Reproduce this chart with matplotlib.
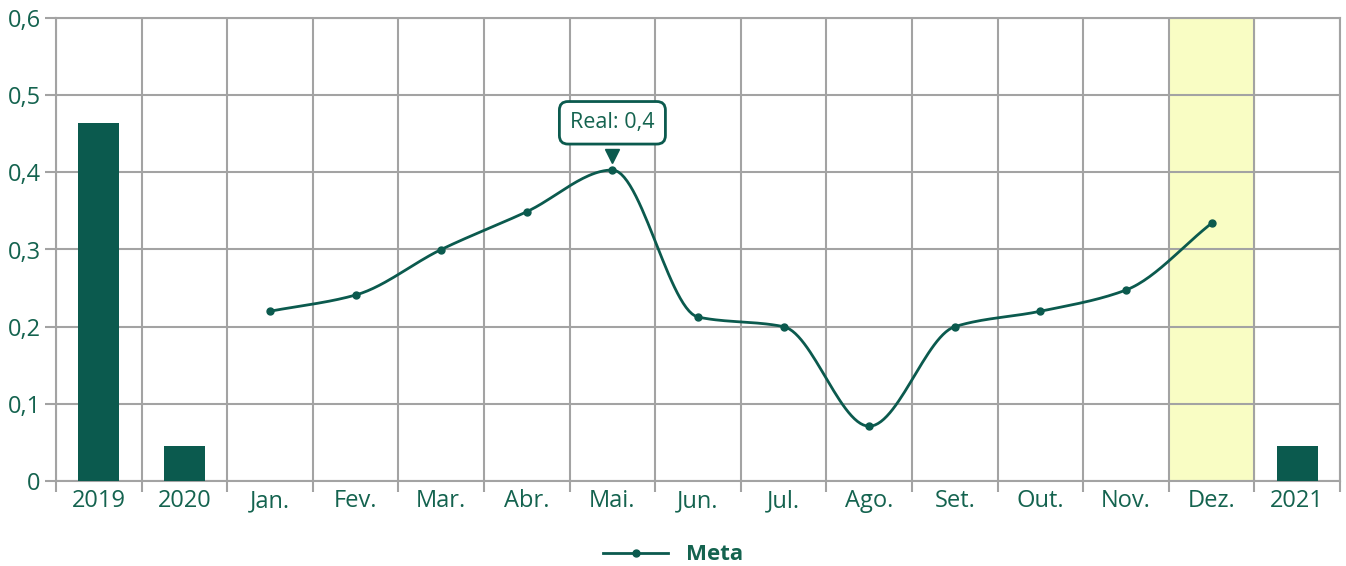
import numpy as np
import matplotlib
matplotlib.use('Agg')
import matplotlib.pyplot as plt
import matplotlib.transforms as mtransforms

# data
categories = ['2019', '2020', 'Jan.', 'Fev.', 'Mar.', 'Abr.', 'Mai.', 'Jun.', 'Jul.',
              'Ago.', 'Set.', 'Out.', 'Nov.', 'Dez.', '2021']
bar_labels = ['2019', '2020', '2021']
bar_values = [0.464, 0.045, 0.045]
month_labels = ['Jan.', 'Fev.', 'Mar.', 'Abr.', 'Mai.', 'Jun.', 'Jul.',
                'Ago.', 'Set.', 'Out.', 'Nov.', 'Dez.']
meta_values = [0.22, 0.241, 0.30, 0.349, 0.403, 0.2125, 0.20, 0.071, 0.20, 0.22, 0.2475, 0.334]
highlight = 'Dez.'
tooltip_label = 'Mai.'
tooltip_text = 'Real: 0,4'

teal = '#0b5a4e'
text_col = '#14634f'
grid_col = '#a3a3a3'

plt.rcParams['font.family'] = ['Open Sans', 'DejaVu Sans']


def monotone(x, y, n=30):
    # Fritsch-Carlson monotone cubic, for a smooth line like the original
    x = np.asarray(x, float)
    y = np.asarray(y, float)
    h = np.diff(x)
    d = np.diff(y) / h
    m = np.zeros_like(y)
    m[0], m[-1] = d[0], d[-1]
    for i in range(1, len(y) - 1):
        if d[i - 1] * d[i] <= 0:
            m[i] = 0
        else:
            m[i] = 3 * (h[i - 1] + h[i]) / ((2 * h[i] + h[i - 1]) / d[i - 1] + (h[i] + 2 * h[i - 1]) / d[i])
    xs, ys = [], []
    for i in range(len(x) - 1):
        t = np.linspace(0, 1, n)
        h00 = 2 * t**3 - 3 * t**2 + 1
        h10 = t**3 - 2 * t**2 + t
        h01 = -2 * t**3 + 3 * t**2
        h11 = t**3 - t**2
        xs.append(x[i] + t * h[i])
        ys.append(h00 * y[i] + h10 * h[i] * m[i] + h01 * y[i + 1] + h11 * h[i] * m[i + 1])
    return np.concatenate(xs), np.concatenate(ys)


fig = plt.figure(figsize=(13.46, 5.66), dpi=100)
ax = fig.add_axes([56 / 1346, 85 / 566, 1284 / 1346, 463 / 566])

pos = {c: i for i, c in enumerate(categories)}

# highlight column
hx = pos[highlight]
ax.axvspan(hx - 0.5, hx + 0.5, color='#f9fdc4', zorder=0)

# bars
bx = [pos[c] for c in bar_labels]
ax.bar(bx, bar_values, width=0.48, color=teal, zorder=3)

# line
mx = [pos[c] for c in month_labels]
sx, sy = monotone(mx, meta_values)
ax.plot(sx, sy, color=teal, linewidth=2, zorder=4, solid_capstyle='round')
ax.plot(mx, meta_values, 'o', color=teal, markersize=5, zorder=5)

ax.set_xlim(-0.5, len(categories) - 0.5)
ax.set_ylim(0, 0.6)
ax.set_xticks(range(len(categories)))
ax.set_xticklabels(categories)
ax.set_xticks(np.arange(-0.5, len(categories)), minor=True)
ax.set_yticks(np.arange(0, 0.61, 0.1))
ax.set_yticklabels(['0', '0,1', '0,2', '0,3', '0,4', '0,5', '0,6'])

ax.grid(True, which='minor', axis='x', color=grid_col, linewidth=1.5, zorder=1)
ax.grid(True, which='major', axis='y', color=grid_col, linewidth=1.5, zorder=1)
ax.tick_params(axis='x', which='major', length=0, pad=6, labelsize=17, labelcolor=text_col)
ax.tick_params(axis='x', which='minor', length=8, width=1.5, color=grid_col)
ax.tick_params(axis='y', length=8, width=1.5, color=grid_col, pad=3, labelsize=17, labelcolor=text_col)
for s in ax.spines.values():
    s.set_color(grid_col)
    s.set_linewidth(1.5)
ax.set_axisbelow(True)

# tooltip
tx = pos[tooltip_label]
ty = meta_values[month_labels.index(tooltip_label)]
tri = mtransforms.offset_copy(ax.transData, fig=fig, x=0, y=10, units='points')
ax.plot([tx], [ty], marker='v', markersize=10, color=teal, transform=tri, zorder=6, clip_on=False)
ax.annotate(tooltip_text, (tx, ty), xytext=(0, 34), textcoords='offset points',
            ha='center', va='center', fontsize=15.5, color=text_col, zorder=7,
            bbox=dict(boxstyle='round,pad=0.5,rounding_size=0.4', fc='white', ec=teal, lw=2))

# legend
handle, = ax.plot([], [], '-o', color=teal, linewidth=2, markersize=5)
leg = fig.legend([handle], ['Meta'], loc='center', bbox_to_anchor=(0.5, 1 - 555 / 566),
                 frameon=False, prop={'size': 16, 'weight': 'bold'}, handlelength=2.9)
for t in leg.get_texts():
    t.set_color(text_col)

fig.savefig('out.png', dpi=100)
